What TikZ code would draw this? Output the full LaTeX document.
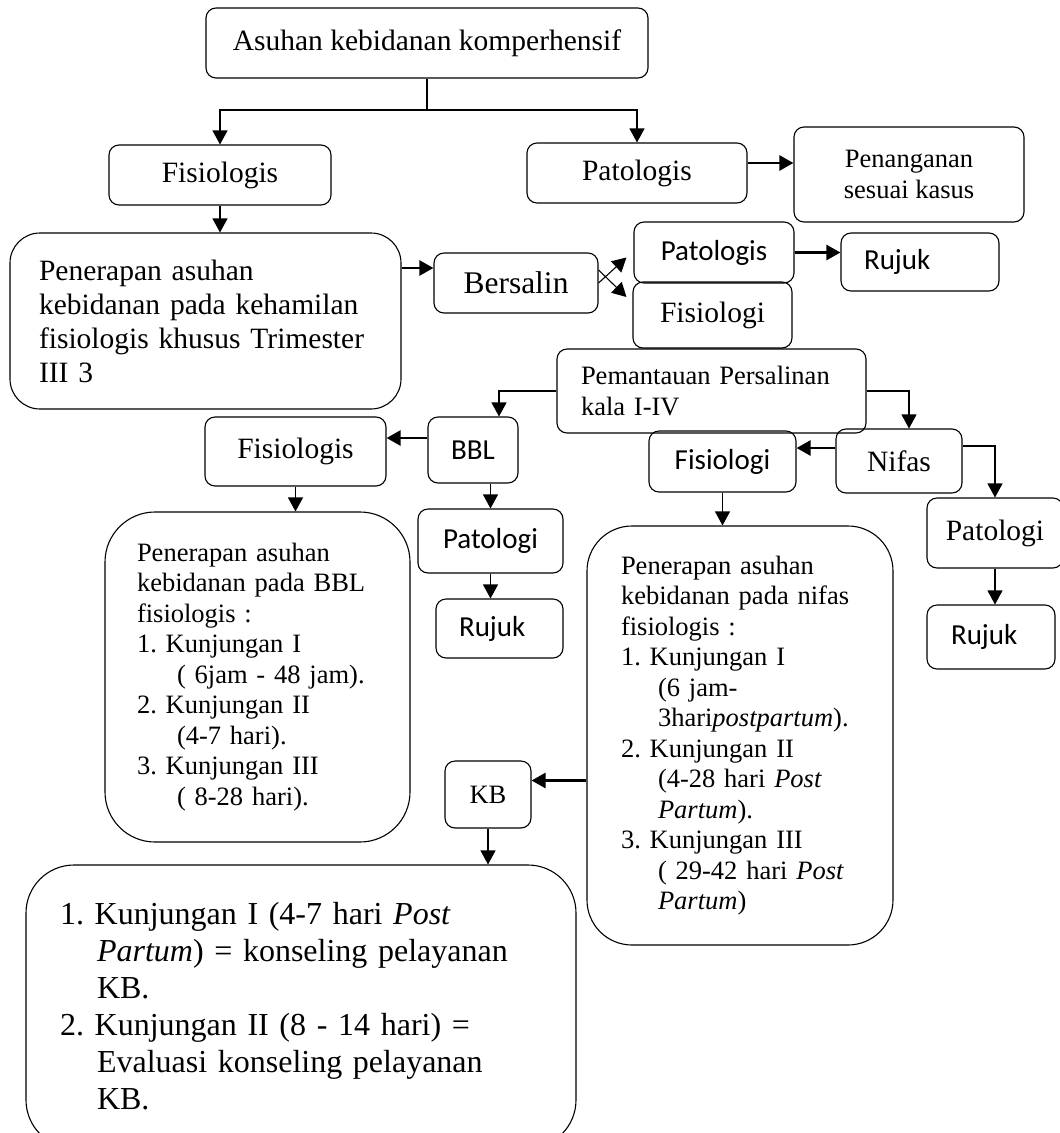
\documentclass[tikz,border=0pt]{standalone}
\usepackage{fontspec}
\setmainfont{Liberation Serif}
\setsansfont{Carlito}
\usetikzlibrary{arrows.meta}
\frenchspacing

\begin{document}
\begin{tikzpicture}[
	x=1pt, y=-1pt,
	box/.style = {
		draw, line width=1.1pt, rounded corners=10pt,
		inner sep=0pt, align=center},
	big/.style = {font=\fontsize{29.5}{34}\selectfont},
	small/.style = {font=\fontsize{26.5}{30.5}\selectfont},
	sans/.style = {font=\sffamily\fontsize{29}{34}\selectfont},
	arr/.style = {-{Triangle[width=15pt,length=14pt]}, line width=1.1pt},
	thickarr/.style = {arr, line width=2.5pt}]

	\useasboundingbox (0,0) rectangle (1060,1133);

	% top level
	\node[box, big, minimum width=442pt, minimum height=70pt] (asuhan) at (427,43) {Asuhan kebidanan komperhensif};
	\node[box, big, minimum width=222pt, minimum height=60pt] (fis) at (220,175) {Fisiologis};
	\node[box, big, minimum width=220pt, minimum height=60pt] (pat) at (637,173) {Patologis};
	\node[box, small, minimum width=230pt, minimum height=95pt] (kasus) at (909,174.5) {Penanganan\\sesuai kasus};

	% kehamilan and bersalin
	\node[box, big, rounded corners=30pt, align=left, text width=333pt,
		minimum width=391pt, minimum height=176pt] (hamil) at (205.5,321)
		{Penerapan asuhan\\kebidanan pada kehamilan\\fisiologis khusus Trimester\\III 3};
	\node[box, font=\fontsize{31.5}{36}\selectfont, minimum width=164pt, minimum height=60pt] (bersalin) at (516,283) {Bersalin};
	\node[box, sans, minimum width=160pt, minimum height=61pt] (patB) at (714,252.5) {Patologis};
	\node[box, sans, align=left, text width=112pt, minimum width=158pt, minimum height=58pt] (rujukB) at (920,262) {Rujuk};
	\node[box, big, minimum width=159pt, minimum height=66pt] (fisB) at (712.5,315) {Fisiologi};
	\node[box, small, align=left, text width=261pt, minimum width=309pt, minimum height=84pt] (pantau) at (711.5,391)
		{Pemantauan Persalinan\\kala I-IV};

	% BBL
	\node[box, sans, minimum width=90pt, minimum height=66pt] (bbl) at (473,450) {BBL};
	\node[box, big, minimum width=181pt, minimum height=69pt] (fisBBL) at (295.5,451.5) {Fisiologis};
	\node[box, sans, minimum width=145pt, minimum height=64pt] (patBBL) at (490.5,541) {Patologi};
	\node[box, sans, align=left, text width=81pt, minimum width=127pt, minimum height=59pt] (rujukBBL) at (499.5,628.5) {Rujuk};
	\node[box, small, rounded corners=50pt, align=left, text width=241pt,
		minimum width=305pt, minimum height=330pt] (asuhBBL) at (257.5,677)
		{Penerapan asuhan\\kebidanan pada BBL\\fisiologis :\\1. Kunjungan I\\\hspace*{40pt}( 6jam - 48 jam).\\2. Kunjungan II\\\hspace*{40pt}(4-7 hari).\\3. Kunjungan III\\\hspace*{40pt}( 8-28 hari).};

	% nifas
	\node[box, big, minimum width=126pt, minimum height=64pt] (nifas) at (899,461) {Nifas};
	\node[box, sans, minimum width=147pt, minimum height=61pt] (fisNifas) at (722.5,461.5) {Fisiologi};
	\node[box, big, minimum width=136pt, minimum height=70pt] (patNifas) at (995,533) {Patologi};
	\node[box, sans, align=left, text width=80pt, minimum width=128pt, minimum height=64pt] (rujukNifas) at (991,637) {Rujuk};
	\node[box, small, rounded corners=45pt, align=left, text width=238pt,
		minimum width=306pt, minimum height=419pt] (asuhNifas) at (740,735.5)
		{Penerapan asuhan\\kebidanan pada nifas\\fisiologis :\\1. Kunjungan I\\\hspace*{37pt}(6 jam-\\\hspace*{37pt}3hari\textit{postpartum}).\\2. Kunjungan II\\\hspace*{37pt}(4-28 hari \textit{Post}\\\hspace*{37pt}\textit{Partum}).\\3. Kunjungan III\\\hspace*{37pt}( 29-42 hari \textit{Post}\\\hspace*{37pt}\textit{Partum})};

	% KB
	\node[box, small, minimum width=86pt, minimum height=67pt] (kb) at (488,794.5) {KB};
	\node[box, font=\fontsize{32}{37}\selectfont, rounded corners=48pt, align=left, text width=482pt,
		minimum width=550pt, minimum height=283pt] (asuhKB) at (301,1006.5)
		{1. Kunjungan I (4-7 hari \textit{Post}\\\hspace*{37pt}\textit{Partum}) = konseling pelayanan\\\hspace*{37pt}KB.\\2. Kunjungan II (8 - 14 hari) =\\\hspace*{37pt}Evaluasi konseling pelayanan\\\hspace*{37pt}KB.};

	% connectors
	\coordinate (split) at (427,110);
	\draw[line width=1.1pt] (asuhan.south) -- (split);
	\draw[arr] (split) -| (fis.north);
	\draw[arr] (split) -| (pat.north);
	\draw[thickarr] ([yshift=10pt]pat.east) -- ([yshift=10pt]pat.east -| kasus.west);
	\draw[arr] (fis.south) -- (fis.south |- hamil.north);
	\draw[thickarr] ([yshift=15pt]bersalin.west -| hamil.east) -- ([yshift=15pt]bersalin.west);
	\draw[arr] (bersalin.east) -- ([xshift=-7pt,yshift=-5pt]patB.west);
	\draw[arr] ([yshift=13pt]bersalin.east) -- ([xshift=-6pt,yshift=18pt]fisB.west);
	\draw[thickarr] (patB.east) -- (patB.east -| rujukB.west);
	\draw[arr] (pantau.west) -| ([xshift=26pt]bbl.north);
	\draw[arr] (pantau.east) -| ([xshift=10pt]nifas.north);
	\draw[thickarr] ([yshift=12pt]bbl.west) -- ([yshift=12pt]bbl.west -| fisBBL.east);
	\draw[arr] (fisBBL.south) -- (fisBBL.south |- asuhBBL.north);
	\draw[arr] (patBBL.north |- bbl.south) -- (patBBL.north);
	\draw[arr] (patBBL.south) -- (patBBL.south |- rujukBBL.north);
	\draw[thickarr] ([yshift=13pt]nifas.west) -- ([yshift=13pt]nifas.west -| fisNifas.east);
	\draw[arr] ([yshift=15pt]nifas.east) -| (patNifas.north);
	\draw[arr] (patNifas.south) -- (patNifas.south |- rujukNifas.north);
	\draw[arr] (fisNifas.south) -- (fisNifas.south |- asuhNifas.north);
	\draw[thickarr] ([yshift=14pt]kb.east -| asuhNifas.west) -- ([yshift=14pt]kb.east);
	\draw[arr] (kb.south) -- (kb.south |- asuhKB.north);
\end{tikzpicture}
\end{document}
